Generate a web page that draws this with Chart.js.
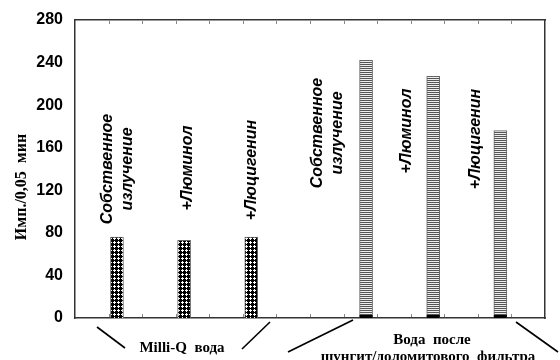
<!DOCTYPE html>
<html>
<head>
<meta charset="utf-8">
<script src="https://cdn.jsdelivr.net/npm/chart.js@4.4.1/dist/chart.umd.min.js"></script>
<style>
  html, body { margin: 0; padding: 0; background: #fff; }
</style>
</head>
<body>
<canvas id="c" width="560" height="360"></canvas>
<script>
// Chemiluminescence counts per 0.05 min
const samples = ['Собственное излучение', '+Люминол', '+Люцигенин'];
const milliQPos = [1.25, 3.25, 5.25];
const milliQValues = [76, 73, 76];
const filteredPos = [8.67, 10.67, 12.67];
const filteredValues = [242, 227, 176];
const yTicks = [0, 40, 80, 120, 160, 200, 240, 280];
const groupNames = ['Milli-Q  вода', 'Вода  после', 'шунгит/доломитового  фильтра'];
const yTitle = 'Имп./0,05  мин';

// fill patterns for the two groups
function dotPattern() {
  const t = document.createElement('canvas');
  t.width = 4; t.height = 4;
  const g = t.getContext('2d');
  g.fillStyle = '#000'; g.fillRect(0, 0, 4, 4);
  g.fillStyle = '#fff';
  g.fillRect(2, 1, 1, 3);
  g.fillRect(1, 2, 3, 1);
  return g.createPattern(t, 'repeat');
}
function stripePattern() {
  const t = document.createElement('canvas');
  t.width = 2; t.height = 2;
  const g = t.getContext('2d');
  g.fillStyle = '#eeeeee'; g.fillRect(0, 0, 2, 2);
  g.fillStyle = '#555555'; g.fillRect(0, 0, 2, 1);
  return g.createPattern(t, 'repeat');
}

const toPoints = (xs, ys) => xs.map((x, i) => ({ x, y: ys[i] }));

// label layout: [x in axis units, pixel centre y, lines]
const sampleLabels = [
  [1.28, 169, ['Собственное', 'излучение']],
  [3.34, 168, ['+Люминол']],
  [5.27, 170, ['+Люцигенин']],
  [7.52, 133, ['Собственное', 'излучение']],
  [9.89, 131, ['+Люминол']],
  [11.92, 139, ['+Люцигенин']]
];

const frameBorder = { display: true, color: '#333333', width: 1.5 };

// small inward ticks along top and bottom edges
function drawEdgeTicks(chart) {
  const ctx = chart.ctx;
  const xs = chart.scales.x;
  const ys = chart.scales.y;
  const T = Math.round(ys.top), B = Math.round(ys.bottom);
  ctx.save();
  ctx.fillStyle = '#888888';
  for (let v = 1; v < 14; v++) {
    const px = Math.round(xs.getPixelForValue(v));
    ctx.fillRect(px, T + 1, 1, 3);
    ctx.fillRect(px, B - 4, 1, 3);
  }
  ctx.restore();
}

const decor = {
  id: 'decor',
  afterDatasetsDraw(chart) {
    const ctx = chart.ctx;
    const meta = chart.getDatasetMeta(1);
    ctx.save();
    ctx.fillStyle = '#000';
    meta.data.forEach(b => {
      ctx.fillRect(b.x - b.width / 2, b.base - 3, b.width, 3);
    });
    ctx.restore();
    drawEdgeTicks(chart);
  },
  afterDraw(chart) {
    const ctx = chart.ctx;
    const xs = chart.scales.x;
    ctx.save();
    ctx.fillStyle = '#000';
    ctx.font = 'italic bold 16px "Liberation Sans", Arial, sans-serif';
    ctx.textAlign = 'center';
    ctx.textBaseline = 'middle';
    const lh = 20;
    sampleLabels.forEach(([xv, cy, lines]) => {
      const cx = xs.getPixelForValue(xv);
      lines.forEach((ln, i) => {
        const off = (i - (lines.length - 1) / 2) * lh;
        ctx.save();
        ctx.translate(cx + off, cy);
        ctx.rotate(-Math.PI / 2);
        ctx.fillText(ln, 0, 0);
        ctx.restore();
      });
    });
    ctx.font = 'bold 16px "Liberation Serif", "Times New Roman", serif';
    ctx.save();
    ctx.translate(22, 187);
    ctx.rotate(-Math.PI / 2);
    ctx.fillText(yTitle, 0, 0);
    ctx.restore();
    ctx.font = 'bold 15px "Liberation Serif", "Times New Roman", serif';
    ctx.fillText(groupNames[0], 182, 348);
    ctx.fillText(groupNames[1], 432, 340);
    ctx.fillText(groupNames[2], 428, 357);
    ctx.strokeStyle = '#000';
    ctx.lineWidth = 1.6;
    [[97, 327, 125, 348], [242, 349, 270, 322], [288, 352, 353, 320], [516, 322, 558, 352]]
      .forEach(([x1, y1, x2, y2]) => {
        ctx.beginPath(); ctx.moveTo(x1, y1); ctx.lineTo(x2, y2); ctx.stroke();
      });
    ctx.restore();
  }
};

new Chart(document.getElementById('c'), {
  type: 'bar',
  data: {
    datasets: [
      {
        label: 'Milli-Q',
        data: toPoints(milliQPos, milliQValues),
        backgroundColor: dotPattern(),
        borderColor: '#666',
        borderWidth: 1,
        barThickness: 13,
        grouped: false
      },
      {
        label: 'filtered',
        data: toPoints(filteredPos, filteredValues),
        backgroundColor: stripePattern(),
        borderColor: '#666',
        borderWidth: 1,
        barThickness: 13,
        grouped: false
      }
    ]
  },
  options: {
    responsive: false,
    animation: false,
    layout: { padding: { top: 20, right: 15, left: 0, bottom: 0 } },
    plugins: { legend: { display: false }, tooltip: { enabled: false } },
    scales: {
      x: {
        type: 'linear', min: 0, max: 14, offset: false,
        grid: { display: false }, border: frameBorder,
        ticks: { display: false },
        afterFit: s => { s.height = 42; }
      },
      xTop: {
        type: 'linear', position: 'top', min: 0, max: 14, offset: false,
        grid: { display: false }, border: frameBorder,
        ticks: { display: false },
        afterFit: s => { s.height = 0; }
      },
      y: {
        min: 0, max: 280,
        afterBuildTicks: s => { s.ticks = yTicks.map(v => ({ value: v })); },
        grid: { display: false }, border: frameBorder,
        ticks: {
          color: '#000', padding: 4,
          font: { family: '"Liberation Sans", Arial, sans-serif', size: 16, weight: 'bold' }
        },
        afterFit: s => { s.width = 75; }
      },
      yRight: {
        position: 'right', min: 0, max: 280,
        grid: { display: false }, border: frameBorder,
        ticks: { display: false },
        afterFit: s => { s.width = 0; }
      }
    }
  },
  plugins: [decor]
});
</script>
</body>
</html>
